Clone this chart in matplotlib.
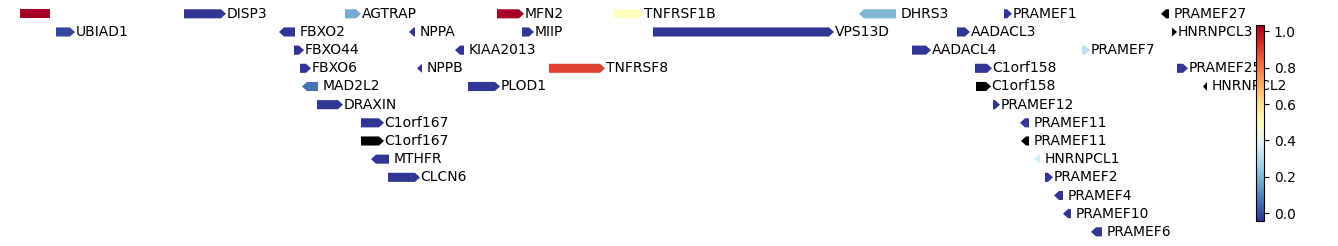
'''Gene track with expression-like scores coloured on a RdYlBu_r scale.'''
import numpy as np
import matplotlib
matplotlib.use("Agg")
import matplotlib.pyplot as plt
from matplotlib.patches import Polygon
from matplotlib.colors import Normalize
from matplotlib.cm import ScalarMappable

'''Gene annotations (positions in track units), strand and score; nan = no score'''
gene_names = ["", "DISP3", "AGTRAP", "MFN2", "TNFRSF1B", "DHRS3", "PRAMEF1", "PRAMEF27",
              "UBIAD1", "FBXO2", "NPPA", "MIIP", "VPS13D", "AADACL3", "HNRNPCL3",
              "FBXO44", "KIAA2013", "AADACL4", "PRAMEF7",
              "FBXO6", "NPPB", "TNFRSF8", "C1orf158", "PRAMEF25",
              "MAD2L2", "PLOD1", "C1orf158", "HNRNPCL2",
              "DRAXIN", "PRAMEF12",
              "C1orf167", "PRAMEF11",
              "C1orf167", "PRAMEF11",
              "MTHFR", "HNRNPCL1",
              "CLCN6", "PRAMEF2",
              "PRAMEF4",
              "PRAMEF10",
              "PRAMEF6"]
gene_starts = [20, 184, 345, 497, 614, 859, 1004, 1161,
               56, 279, 409, 522, 653, 957, 1172,
               294, 455, 912, 1082,
               300, 417, 549, 975, 1177,
               302, 468, 976, 1203,
               317, 993,
               361, 1020,
               361, 1021,
               371, 1034,
               388, 1045,
               1054,
               1063,
               1091]
gene_ends = [50, 226, 361, 524, 644, 896, 1012, 1169,
             75, 295, 415, 534, 834, 970, 1177,
             304, 464, 931, 1090,
             311, 422, 605, 992, 1188,
             318, 500, 991, 1207,
             343, 1000,
             384, 1029,
             384, 1029,
             389, 1040,
             420, 1053,
             1063,
             1071,
             1102]
gene_strands = [".", "+", "+", "+", "+", "-", "+", "-",
                "+", "-", "-", "+", "+", "+", "+",
                "+", "-", "+", "+",
                "+", "-", "+", "+", "+",
                "-", "+", "+", "-",
                "+", "+",
                "+", "-",
                "+", "-",
                "-", "-",
                "+", "+",
                "-",
                "-",
                "-"]
gene_values = [1.0, 0.0, 0.2, 1.0, 0.5, 0.22, 0.0, np.nan,
               0.03, 0.0, 0.0, 0.0, 0.0, 0.0, np.nan,
               0.0, 0.0, 0.0, 0.33,
               0.0, 0.0, 0.87, 0.0, 0.0,
               0.1, 0.0, np.nan, np.nan,
               0.0, 0.0,
               0.0, 0.0,
               np.nan, np.nan,
               0.0, 0.38,
               0.0, 0.0,
               0.0,
               0.0,
               0.0]
gene_rows = [0] * 8 + [1] * 7 + [2] * 4 + [3] * 5 + [4] * 4 + [5] * 2 + [6] * 2 + [7] * 2 \
    + [8] * 2 + [9] * 2 + [10] + [11] + [12]

colorbar_ticks = [0.0, 0.2, 0.4, 0.6, 0.8, 1.0]

W, H = 1338, 246
fig = plt.figure(figsize=(W / 100, H / 100), dpi=100)

'''Track axis takes most of the width, colorbar sits on the right'''
ax = fig.add_axes([0, 0, 1250 / W, 1])
ax.set_xlim(0, 1250)
row_px = 18.17
top_px = 13.8
ax.set_ylim((H - top_px) / row_px, -top_px / row_px)
ax.axis("off")

cmap = plt.get_cmap("RdYlBu_r").copy()
cmap.set_bad("black")
gene_norm = Normalize(vmin=0.0, vmax=1.0)
bar_norm = Normalize(vmin=-0.04, vmax=1.035)

half = 0.25
head = 5.0
for name, start, end, strand, value, row in zip(gene_names, gene_starts, gene_ends,
                                                  gene_strands, gene_values, gene_rows):
    color = cmap(gene_norm(np.ma.masked_invalid(value)))
    h = min(head, end - start)
    if strand == "+":
        pts = [(start, row - half), (end - h, row - half), (end, row),
               (end - h, row + half), (start, row + half)]
    elif strand == "-":
        pts = [(end, row - half), (start + h, row - half), (start, row),
               (start + h, row + half), (end, row + half)]
    else:
        pts = [(start, row - half), (end, row - half), (end, row + half), (start, row + half)]
    ax.add_patch(Polygon(pts, closed=True, facecolor=color, edgecolor="none"))
    if name:
        gap = 0.5 if strand == "+" else 5.0
        ax.text(end + gap, row, name, fontsize=10, va="center", ha="left")

'''Colorbar for the scores'''
cax = fig.add_axes([1256 / W, (H - 220.5) / H, 8 / W, 195.5 / H])
sm = ScalarMappable(norm=bar_norm, cmap=cmap)
cb = fig.colorbar(sm, cax=cax, ticks=colorbar_ticks)
cb.ax.tick_params(labelsize=10)
cb.outline.set_linewidth(0.8)

fig.savefig("out.png", dpi=100)
